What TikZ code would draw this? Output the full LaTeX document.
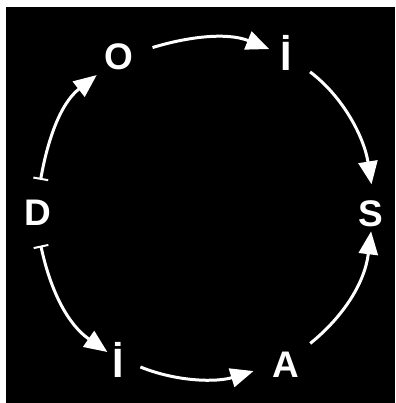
\documentclass[tikz,border=0pt]{standalone}
\usepackage{fontspec}
\setmainfont{Liberation Sans}
\usetikzlibrary{arrows.meta}
\tikzset{
  % Letters on the ring
  letter/.style={
    text=white, font=\fontsize{37}{42}\selectfont\bfseries,
    inner sep=0pt, outer sep=0pt, anchor=base
  },
  % Dotted I is set a little taller
  letterI/.style={
    letter, font=\fontsize{41}{46}\selectfont\bfseries
  },
  % Arrow between two letters
  link/.style={
    ->, draw=white, line width=3pt,
    >={Triangle[length=23pt, width=19pt]}
  },
  % Arrow leaving D (bar at the tail)
  linkBar/.style={
    link, {Bar[width=15pt, line width=2pt]}->
  },
}

\begin{document}
\begin{tikzpicture}[x=1pt, y=1pt]

  %% ── Frame ──
  \fill[white] (0,0) rectangle (395,-403);
  \fill[black] (6,-7) rectangle (395,-403);

  %% ── Letters ──
  \node[letter]  (d)    at (38,-225)  {D};
  \node[letter]  (o)    at (119,-70)  {O};
  \node[letterI] (iTop) at (286,-71)  {İ};
  \node[letter]  (s)    at (371,-226) {S};
  \node[letter]  (a)    at (286,-377) {A};
  \node[letterI] (iBot) at (118,-377) {İ};

  %% ── Upper path ──
  \draw[linkBar, shorten <=20pt, shorten >=10pt] (d.94) to[out=80, in=218] (o.219);
  \draw[link, shorten <=20pt, shorten >=12pt] (o.15) to[out=17, in=158] (iTop.181);
  \draw[link, shorten <=23pt, shorten >=16pt] (iTop.-39) to[out=-37, in=99] (s.77);

  %% ── Lower path ──
  \draw[linkBar, shorten <=21pt, shorten >=6pt] (d.-97) to[out=-78, in=145] (iBot.145);
  \draw[link, shorten <=18pt, shorten >=20pt] (iBot.-8) to[out=-22, in=197] (a.184);
  \draw[link, shorten <=14pt, shorten >=5pt] (a.42) to[out=39, in=-97] (s.-87);

\end{tikzpicture}
\end{document}
